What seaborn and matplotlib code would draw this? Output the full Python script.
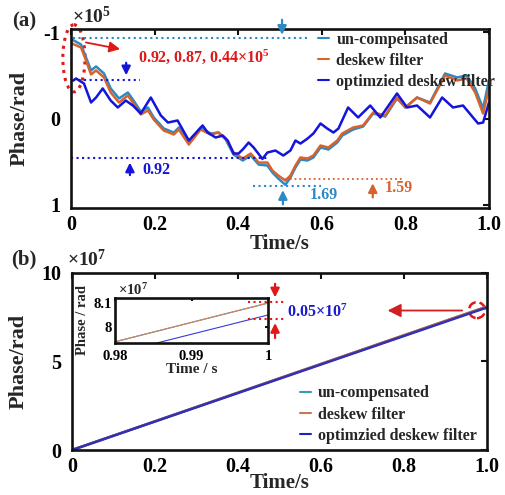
import numpy as np
import pandas as pd
import matplotlib
matplotlib.use('Agg')
import matplotlib.pyplot as plt
import seaborn as sns
from matplotlib.patches import Ellipse
from matplotlib.lines import Line2D

# ---------------- data : panel (a), phase in units of 1e5 rad ----------------
t_a = [0.002, 0.024, 0.036, 0.048, 0.060, 0.079, 0.095, 0.115, 0.136, 0.148,
       0.167, 0.184, 0.198, 0.222, 0.246, 0.258, 0.282, 0.310, 0.334, 0.353,
       0.370, 0.389, 0.411, 0.430, 0.449, 0.470, 0.482, 0.496, 0.513, 0.525,
       0.537, 0.549, 0.566, 0.580, 0.597, 0.616, 0.637, 0.649, 0.675, 0.699,
       0.723, 0.752, 0.780, 0.800, 0.828, 0.859, 0.895, 0.924, 0.947, 0.967,
       0.986, 1.000]
ph_uncomp = [-0.919, -0.860, -0.709, -0.558, -0.605, -0.523, -0.349, -0.233, -0.302, -0.221,
             -0.081, -0.128, -0.012, 0.116, 0.163, 0.105, 0.279, 0.105, 0.174, 0.163,
             0.244, 0.419, 0.488, 0.430, 0.535, 0.547, 0.628, 0.698, 0.770, 0.686,
             0.570, 0.477, 0.488, 0.453, 0.337, 0.360, 0.279, 0.198, 0.128, 0.093,
             -0.058, -0.023, -0.233, -0.128, -0.244, -0.186, -0.523, -0.477, -0.500, -0.349,
             -0.116, -0.442]
ph_deskew = [-0.872, -0.826, -0.674, -0.512, -0.558, -0.477, -0.302, -0.186, -0.267, -0.186,
             -0.047, -0.093, 0.012, 0.140, 0.186, 0.128, 0.302, 0.128, 0.186, 0.163,
             0.233, 0.395, 0.465, 0.407, 0.512, 0.512, 0.605, 0.663, 0.721, 0.663,
             0.547, 0.453, 0.465, 0.430, 0.314, 0.337, 0.256, 0.174, 0.105, 0.081,
             -0.070, -0.035, -0.244, -0.128, -0.244, -0.174, -0.500, -0.442, -0.465, -0.302,
             -0.058, -0.349]
t_opt = [0.005, 0.012, 0.031, 0.048, 0.060, 0.076, 0.095, 0.112, 0.131, 0.148,
         0.167, 0.191, 0.215, 0.232, 0.255, 0.282, 0.315, 0.327, 0.346, 0.363,
         0.375, 0.389, 0.401, 0.413, 0.425, 0.437, 0.458, 0.470, 0.489, 0.508,
         0.525, 0.537, 0.549, 0.566, 0.580, 0.597, 0.613, 0.628, 0.640, 0.663,
         0.687, 0.716, 0.740, 0.780, 0.804, 0.828, 0.859, 0.888, 0.914, 0.938,
         0.974, 0.986, 1.000]
ph_opt = [-0.440, -0.465, -0.407, -0.186, -0.244, -0.349, -0.209, -0.128, -0.209, -0.151,
          -0.058, -0.244, -0.035, 0.047, 0.023, 0.256, 0.081, 0.163, 0.221, 0.198,
          0.256, 0.407, 0.407, 0.349, 0.279, 0.337, 0.470, 0.395, 0.372, 0.430,
          0.372, 0.256, 0.291, 0.233, 0.174, 0.058, 0.116, 0.163, 0.116, -0.128,
          -0.012, -0.151, -0.012, -0.291, -0.128, -0.151, -0.012, -0.244, -0.128, -0.151,
          0.058, 0.047, -0.186]

# ---------------- data : panel (b), phase in units of 1e7 rad ----------------
t_b = [0.0, 1.0]
phb_uncomp = [0.0, 8.10]
phb_deskew = [0.0, 8.10]
phb_opt = [0.0, 8.05]

labels = ['un-compensated', 'deskew filter', 'optimzied deskew filter']
x_ticks = [0, 0.2, 0.4, 0.6, 0.8, 1.0]
x_ticklabels = ['0', '0.2', '0.4', '0.6', '0.8', '1.0']
ya_ticks = [-1, 0, 1]
ya_ticklabels = ['-1', '0', '1']
yb_ticks = [0, 5, 10]
yb_ticklabels = ['0', '5', '10']
xi_ticks = [0.98, 0.99, 1.0]
xi_ticklabels = ['0.98', '0.99', '1']
yi_ticks = [8.0, 8.1]
yi_ticklabels = ['8', '8.1']

C_LB = '#2a8ac6'
C_OR = '#d8622c'
C_BL = '#1414dc'
C_BL2 = '#3030b8'
C_RED = '#e01818'

sns.set_theme(style='white')
plt.rcParams['font.family'] = ['Liberation Serif', 'DejaVu Serif']
plt.rcParams['font.weight'] = 'bold'
plt.rcParams['mathtext.fontset'] = 'custom'
plt.rcParams['mathtext.rm'] = 'Liberation Serif:bold'
plt.rcParams['mathtext.it'] = 'Liberation Serif:bold'
plt.rcParams['mathtext.bf'] = 'Liberation Serif:bold'
plt.rcParams['mathtext.default'] = 'rm'

fig = plt.figure(figsize=(5.06, 4.95), dpi=100)
axA = fig.add_axes([0.1403, 0.5798, 0.826, 0.3616])
axB = fig.add_axes([0.1423, 0.0909, 0.820, 0.3576])
axI = fig.add_axes([0.2273, 0.3071, 0.3024, 0.0909])


def style(ax, fs, lw=1.9, ylpad=8, xlpad=5, length=4):
    for s in ax.spines.values():
        s.set_visible(True)
        s.set_color('#111111')
        s.set_linewidth(lw)
    ax.tick_params(axis='both', direction='in', top=True, right=True, length=length,
                   width=1.5, labelsize=fs, colors='#111111', labelcolor='black')
    ax.tick_params(axis='y', pad=ylpad)
    ax.tick_params(axis='x', pad=xlpad)
    for lab in ax.get_xticklabels() + ax.get_yticklabels():
        lab.set_fontweight('bold')


# ---------------- panel (a) ----------------
sns.lineplot(x=t_a, y=ph_uncomp, ax=axA, color=C_LB, lw=1.8, legend=False)
sns.lineplot(x=t_a, y=ph_deskew, ax=axA, color=C_OR, lw=1.8, legend=False)
sns.lineplot(x=t_opt, y=ph_opt, ax=axA, color=C_BL, lw=1.8, legend=False)
axA.set_xlim(0, 1)
axA.set_ylim(1.04, -1.04)
axA.set_xticks(x_ticks)
axA.set_xticklabels(x_ticklabels)
axA.set_yticks(ya_ticks)
axA.set_yticklabels(ya_ticklabels)
style(axA, 14.5)
axA.set_xlabel('Time/s', fontsize=15, fontweight='bold', labelpad=-1)
axA.set_ylabel('Phase/rad', fontsize=16, fontweight='bold')
axA.yaxis.set_label_coords(-0.100, 0.5)

handlesA = [Line2D([], [], color=c, lw=1.5) for c in (C_LB, C_OR, C_BL)]
legA = axA.legend(handlesA, labels, loc='upper left', bbox_to_anchor=(0.591, 0.985),
                  frameon=False, fontsize=11.5, handlelength=0.7, handletextpad=0.45,
                  labelspacing=0.32, borderpad=0, borderaxespad=0)
for tx in legA.get_texts():
    tx.set_fontweight('bold')

# annotations (a)
axA.add_patch(Ellipse((0.007, -0.70), 0.053, 0.78, fill=False, ec=C_RED, lw=2.2,
                      ls=':', clip_on=False))
axA.annotate('', xy=(0.124, -0.80), xytext=(0.029, -0.89),
             arrowprops=dict(arrowstyle='-|>', color=C_RED, lw=1.3, mutation_scale=16),
             annotation_clip=False)
axA.text(0.160, -0.72, '0.92, 0.87, 0.44×10$^{5}$', color=C_RED, fontsize=11.5,
         fontweight='bold', ha='left', va='center')

axA.hlines(-0.93, 0.005, 0.572, colors=C_LB, linestyles=':', lw=1.5)
axA.hlines(-0.45, 0.005, 0.165, colors=C_BL, linestyles=':', lw=1.5)
axA.hlines(0.46, 0.0, 0.471, colors=C_BL, linestyles=':', lw=1.5)
axA.hlines(0.78, 0.435, 0.598, colors=C_LB, linestyles=':', lw=1.5)
axA.hlines(0.70, 0.512, 0.794, colors=C_OR, linestyles=':', lw=1.3)


def varrow(ax, x, y0, y1, c):
    ax.annotate('', xy=(x, y1), xytext=(x, y0),
                arrowprops=dict(arrowstyle='-|>', color=c, lw=1.6, mutation_scale=13),
                annotation_clip=False)


varrow(axA, 0.505, -1.18, -0.94, C_LB)
varrow(axA, 0.132, -0.68, -0.47, C_BL)
varrow(axA, 0.141, 0.69, 0.48, C_BL)
varrow(axA, 0.507, 1.03, 0.80, C_LB)
varrow(axA, 0.722, 0.95, 0.72, C_OR)
axA.text(0.170, 0.60, '0.92', color=C_BL, fontsize=11.5, fontweight='bold', va='center')
axA.text(0.572, 0.89, '1.69', color=C_LB, fontsize=11.5, fontweight='bold', va='center')
axA.text(0.751, 0.81, '1.59', color=C_OR, fontsize=11.5, fontweight='bold', va='center')

fig.text(0.047, 0.957, '(a)', fontsize=15, fontweight='bold', ha='center', va='center')
fig.text(0.142, 0.966, '×10$^{5}$', fontsize=14, fontweight='bold', ha='left', va='center')

# ---------------- panel (b) ----------------
sns.lineplot(x=t_b, y=phb_uncomp, ax=axB, color=C_LB, lw=1.8, legend=False)
sns.lineplot(x=t_b, y=phb_deskew, ax=axB, color=C_OR, lw=1.8, legend=False)
sns.lineplot(x=t_b, y=phb_opt, ax=axB, color=C_BL2, lw=1.8, legend=False)
axB.set_xlim(0, 1)
axB.set_ylim(0, 10)
axB.set_xticks(x_ticks)
axB.set_xticklabels(x_ticklabels)
axB.set_yticks(yb_ticks)
axB.set_yticklabels(yb_ticklabels)
style(axB, 14.5)
axB.set_xlabel('Time/s', fontsize=15, fontweight='bold', labelpad=-3)
axB.set_ylabel('Phase/rad', fontsize=16, fontweight='bold')
axB.yaxis.set_label_coords(-0.104, 0.5)

handlesB = [Line2D([], [], color=c, lw=1.5) for c in ('#3a9ab0', '#c8784c', '#2020c0')]
legB = axB.legend(handlesB, labels, loc='upper left', bbox_to_anchor=(0.549, 0.365),
                  frameon=False, fontsize=11.5, handlelength=0.7, handletextpad=0.45,
                  labelspacing=0.32, borderpad=0, borderaxespad=0)
for tx in legB.get_texts():
    tx.set_fontweight('bold')

axB.add_patch(Ellipse((0.976, 7.9), 0.0386, 0.904, fill=False, ec=C_RED, lw=1.8,
                      ls='--', clip_on=False))
axB.annotate('', xy=(0.754, 7.88), xytext=(0.947, 7.88),
             arrowprops=dict(arrowstyle='-|>', color='#d02020', lw=1.3, mutation_scale=20),
             annotation_clip=False)
fig.text(0.047, 0.475, '(b)', fontsize=15, fontweight='bold', ha='center', va='center')
fig.text(0.132, 0.475, '×10$^{7}$', fontsize=14, fontweight='bold', ha='left', va='center')

# ---------------- inset ----------------
sns.lineplot(x=t_b, y=phb_uncomp, ax=axI, color=C_LB, lw=0.8, legend=False)
sns.lineplot(x=t_b, y=phb_deskew, ax=axI, color='#d8845a', lw=0.8, legend=False)
sns.lineplot(x=t_b, y=phb_opt, ax=axI, color='#3a3ad8', lw=0.8, legend=False)
axI.set_xlim(0.98, 1.0)
axI.set_ylim(7.933, 8.121)
axI.set_xticks(xi_ticks)
axI.set_xticklabels(xi_ticklabels)
axI.set_yticks(yi_ticks)
axI.set_yticklabels(yi_ticklabels)
style(axI, 10.5, lw=1.9, ylpad=2, xlpad=5, length=2.5)
axI.set_xlabel('Time / s', fontsize=11, fontweight='bold', labelpad=0)
axI.set_ylabel('Phase / rad', fontsize=10.5, fontweight='bold')
axI.yaxis.set_label_coords(-0.17, 0.5)
fig.text(0.233, 0.414, '×10$^{7}$', fontsize=10.5, fontweight='bold', ha='left', va='center')

axI.hlines([8.105, 8.035], 0.99739, 1.00222, colors=C_RED, linestyles=':', lw=1.5,
           clip_on=False)
varrow(axI, 1.00092, 8.192, 8.112, C_RED)
varrow(axI, 1.00092, 7.942, 8.028, C_RED)
axI.text(1.00250, 8.0625, '0.05×10$^{7}$', color='#1a1ad0', fontsize=11.5,
         fontweight='bold', ha='left', va='center', clip_on=False)

fig.savefig('out.png', dpi=100)
